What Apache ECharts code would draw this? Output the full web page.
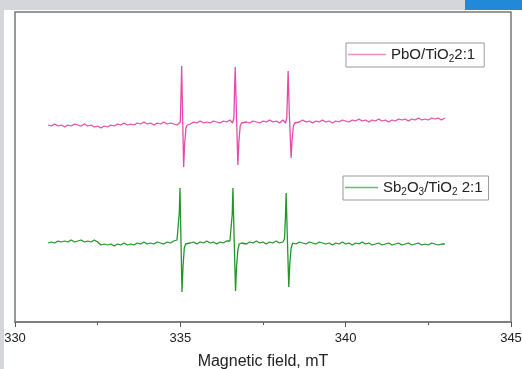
<!DOCTYPE html>
<html>
<head>
<meta charset="utf-8">
<script src="https://cdn.jsdelivr.net/npm/echarts@6/dist/echarts.min.js"></script>
<style>
  html, body { margin: 0; padding: 0; background: #d4d6da; }
  #panel { position: absolute; left: 4px; top: 10px; width: 518px; height: 359px; background: #fff; }
  #tab { position: absolute; left: 465px; top: 0; width: 57px; height: 10px; background: #2289d8; }
  #chart { position: absolute; left: 0; top: 0; width: 522px; height: 369px; }
</style>
</head>
<body>
<div id="panel"></div>
<div id="tab"></div>
<div id="chart"></div>
<script>
// field (mT) and signal (arbitrary units, offset per trace)
const pbField = [
  331.0, 331.1, 331.2, 331.3, 331.4, 331.5, 331.6, 331.7, 331.8, 331.9,
  332.0, 332.1, 332.2, 332.3, 332.4, 332.5, 332.6, 332.7, 332.8, 332.9,
  333.0, 333.1, 333.2, 333.3, 333.4, 333.5, 333.6, 333.7, 333.8, 333.9,
  334.0, 334.1, 334.2, 334.3, 334.4, 334.5, 334.6, 334.7, 334.8, 334.9,
  334.95, 335.0, 335.02, 335.04, 335.07, 335.10, 335.13, 335.17, 335.21, 335.25,
  335.3, 335.4, 335.5, 335.6, 335.7, 335.8, 335.9, 336.0, 336.1, 336.2,
  336.3, 336.4, 336.5, 336.58, 336.62, 336.64, 336.66, 336.70, 336.74, 336.77,
  336.81, 336.85, 336.9, 337.0, 337.1, 337.2, 337.3, 337.4, 337.5, 337.6,
  337.7, 337.8, 337.9, 338.0, 338.1, 338.18, 338.22, 338.24, 338.26, 338.30,
  338.35, 338.38, 338.42, 338.46, 338.5, 338.6, 338.7, 338.8, 338.9, 339.0,
  339.1, 339.2, 339.3, 339.4, 339.5, 339.6, 339.7, 339.8, 339.9, 340.0,
  340.1, 340.2, 340.3, 340.4, 340.5, 340.6, 340.7, 340.8, 340.9, 341.0,
  341.1, 341.2, 341.3, 341.4, 341.5, 341.6, 341.7, 341.8, 341.9, 342.0,
  342.1, 342.2, 342.3, 342.4, 342.5, 342.6, 342.7, 342.8, 342.9, 343.0
];
const pbSignal = [
  197, 196, 198, 196, 197, 195, 197, 196, 198, 197,
  196, 198, 196, 197, 195, 196, 194, 196, 195, 197,
  196, 198, 197, 199, 197, 198, 197, 199, 198, 200,
  198, 199, 197, 199, 198, 200, 198, 199, 198, 197,
  195, 200, 228, 256, 205, 155, 178, 194, 197, 199,
  198, 200, 199, 201, 199, 200, 199, 201, 200, 199,
  201, 200, 202, 199, 204, 232, 255, 205, 157, 180,
  196, 199, 198, 200, 199, 201, 200, 199, 201, 200,
  202, 200, 201, 199, 202, 199, 204, 228, 251, 205,
  164, 182, 196, 199, 201, 200, 202, 200, 201, 199,
  201, 200, 202, 200, 201, 199, 201, 200, 202, 201,
  200, 202, 201, 203, 201, 202, 200, 202, 201, 203,
  201, 202, 200, 202, 201, 203, 202, 203, 201, 203,
  202, 204, 202, 203, 202, 204, 203, 204, 202, 204
];

const sbField = [
  331.0, 331.1, 331.2, 331.3, 331.4, 331.5, 331.6, 331.7, 331.8, 331.9,
  332.0, 332.1, 332.2, 332.3, 332.4, 332.5, 332.6, 332.7, 332.8, 332.9,
  333.0, 333.1, 333.2, 333.3, 333.4, 333.5, 333.6, 333.7, 333.8, 333.9,
  334.0, 334.1, 334.2, 334.3, 334.4, 334.5, 334.6, 334.7, 334.8, 334.9,
  334.95, 334.97, 334.99, 335.02, 335.05, 335.08, 335.12, 335.16, 335.2, 335.3,
  335.4, 335.5, 335.6, 335.7, 335.8, 335.9, 336.0, 336.1, 336.2, 336.3,
  336.4, 336.5, 336.55, 336.57, 336.59, 336.63, 336.67, 336.70, 336.74, 336.78,
  336.85, 336.9, 337.0, 337.1, 337.2, 337.3, 337.4, 337.5, 337.6, 337.7,
  337.8, 337.9, 338.0, 338.1, 338.15, 338.18, 338.20, 338.24, 338.28, 338.31,
  338.35, 338.4, 338.5, 338.6, 338.7, 338.8, 338.9, 339.0, 339.1, 339.2,
  339.3, 339.4, 339.5, 339.6, 339.7, 339.8, 339.9, 340.0, 340.1, 340.2,
  340.3, 340.4, 340.5, 340.6, 340.7, 340.8, 340.9, 341.0, 341.1, 341.2,
  341.3, 341.4, 341.5, 341.6, 341.7, 341.8, 341.9, 342.0, 342.1, 342.2,
  342.3, 342.4, 342.5, 342.6, 342.7, 342.8, 342.9, 343.0
];
const sbSignal = [
  79, 80, 79, 81, 80, 81, 80, 82, 80, 81,
  82, 80, 81, 80, 82, 80, 77, 78, 77, 78,
  76, 78, 77, 79, 77, 78, 77, 79, 78, 80,
  78, 79, 78, 80, 79, 78, 80, 79, 81, 82,
  84, 110, 134, 80, 30, 55, 74, 78, 77, 79,
  80, 78, 80, 79, 81, 79, 80, 78, 80, 79,
  81, 81, 83, 108, 134, 80, 31, 55, 72, 78,
  79, 80, 78, 80, 79, 81, 79, 80, 78, 80,
  79, 81, 79, 80, 83, 106, 129, 80, 35, 58,
  74, 79, 78, 80, 79, 78, 80, 79, 78, 80,
  79, 78, 79, 77, 79, 78, 80, 78, 79, 77,
  79, 78, 80, 78, 79, 77, 78, 79, 77, 78,
  79, 77, 78, 79, 77, 78, 79, 77, 78, 79,
  77, 78, 77, 79, 78, 77, 78, 78
];

const xTicks = { min: 330, max: 345, interval: 5 };

const pbName = 'PbO/TiO2 2:1';
const sbName = 'Sb2O3/TiO2 2:1';
const legendRich = {
  [pbName]: '{n|PbO/TiO}{s|2}{n|2:1}',
  [sbName]: '{n|Sb}{s|2}{n|O}{s|3}{n|/TiO}{s|2}{n| 2:1}'
};

const zip = (xs, ys) => xs.map((x, i) => [x, ys[i]]);

const chart = echarts.init(document.getElementById('chart'), null, { renderer: 'canvas' });

const legendStyle = {
  orient: 'vertical',
  backgroundColor: '#fff',
  borderColor: '#9a9a9a',
  borderWidth: 1,
  borderRadius: 0,
  icon: 'rect',
  itemHeight: 1.5,
  formatter: name => legendRich[name],
  textStyle: {
    rich: {
      n: { fontFamily: 'Liberation Sans', fontSize: 15, color: '#222', lineHeight: 18 },
      s: { fontFamily: 'Liberation Sans', fontSize: 10, color: '#222', lineHeight: 19, verticalAlign: 'bottom' }
    }
  }
};

chart.setOption({
  animation: false,
  textStyle: { fontFamily: 'Liberation Sans' },
  grid: {
    left: 15, right: 11, top: 12, bottom: 47,
    outerBoundsMode: 'none',
    containLabel: false,
    show: true,
    borderColor: '#787878',
    borderWidth: 1.5
  },
  legend: [
    Object.assign({ data: [pbName], left: 346, top: 43, itemWidth: 38, padding: [4, 9, 3, 2] }, legendStyle),
    Object.assign({ data: [sbName], left: 343, top: 176, itemWidth: 33, padding: [4, 6, 3, 2] }, legendStyle)
  ],
  xAxis: {
    type: 'value',
    min: xTicks.min,
    max: xTicks.max,
    interval: xTicks.interval,
    name: 'Magnetic field, mT',
    nameLocation: 'middle',
    nameGap: 32,
    nameTextStyle: { fontSize: 16, color: '#222' },
    axisLine: { lineStyle: { color: '#787878', width: 1.5 } },
    axisTick: { inside: false, length: 5, lineStyle: { color: '#555' } },
    minorTick: { show: true, splitNumber: 2, length: 3, lineStyle: { color: '#555' } },
    axisLabel: { fontSize: 13, color: '#222', margin: 10, showMaxLabel: true, showMinLabel: true },
    splitLine: { show: false }
  },
  yAxis: {
    type: 'value',
    min: 0,
    max: 310,
    show: false
  },
  series: [
    {
      name: pbName,
      type: 'line',
      data: zip(pbField, pbSignal),
      showSymbol: false,
      symbol: 'none',
      lineStyle: { color: '#e64aab', width: 1.3 },
      itemStyle: { color: '#f08ccd' }
    },
    {
      name: sbName,
      type: 'line',
      data: zip(sbField, sbSignal),
      showSymbol: false,
      symbol: 'none',
      lineStyle: { color: '#23952a', width: 1.3 },
      itemStyle: { color: '#6fb877' }
    }
  ]
});
</script>
</body>
</html>
